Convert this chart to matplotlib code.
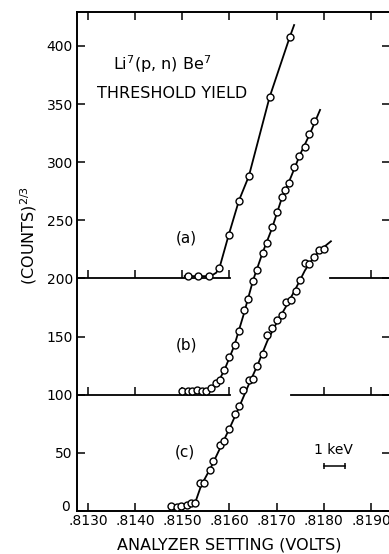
import matplotlib
matplotlib.use("Agg")
import matplotlib.pyplot as plt
from matplotlib.transforms import ScaledTranslation

plt.rcParams['mathtext.default'] = 'regular'

# measured points: (a) offset by 200, (b) by 100, (c) unshifted
a_x = [0.81512, 0.81534, 0.81556, 0.81578, 0.81598, 0.81620, 0.81641, 0.81685, 0.81728]
a_y = [202, 202, 202, 209, 237, 267, 288, 356, 408]

b_x = [0.81500, 0.81511, 0.81520, 0.81532, 0.81542, 0.81550, 0.81561, 0.81571, 0.81579,
       0.81588, 0.81600, 0.81611, 0.81621, 0.81631, 0.81639, 0.81649, 0.81659, 0.81670,
       0.81679, 0.81691, 0.81700, 0.81711, 0.81718, 0.81727, 0.81737, 0.81747, 0.81760,
       0.81769, 0.81779]
b_y = [102.8, 102.8, 102.8, 104.5, 102.8, 102.8, 105.8, 110.1, 113.1,
       121.7, 132.9, 142.8, 154.8, 172.9, 182.1, 197.8, 207.7, 222.2,
       230.8, 243.9, 257.6, 269.8, 276.1, 281.9, 296.3, 305.6, 313.5,
       324.5, 335.5]

c_x = [0.81477, 0.81488, 0.81498, 0.81509, 0.81518, 0.81527, 0.81538, 0.81547, 0.81558,
       0.81566, 0.81579, 0.81588, 0.81599, 0.81611, 0.81621, 0.81629, 0.81641, 0.81650,
       0.81659, 0.81671, 0.81679, 0.81690, 0.81701, 0.81711, 0.81719, 0.81730, 0.81740,
       0.81750, 0.81760, 0.81769, 0.81779, 0.81790, 0.81801]
c_y = [3.9, 3.4, 3.9, 5.2, 6.9, 7.3, 24.5, 24.5, 35.0,
       42.6, 56.5, 60.5, 70.3, 83.3, 90.5, 104.1, 113.1, 113.5,
       124.5, 135.1, 151.0, 157.7, 164.0, 168.6, 179.4, 181.5, 189.5,
       198.7, 213.1, 212.5, 218.8, 224.3, 225.1]

# hand-drawn curves through each set
a_fit_x = [0.81505, 0.81560, 0.81572, 0.81580, 0.81598, 0.81620, 0.81641, 0.81685, 0.81728, 0.81737]
a_fit_y = [202, 202, 205, 211, 237, 267, 288, 356, 408, 418]

b_fit_x = [0.81495, 0.81550, 0.81562, 0.81575, 0.81590, 0.81610, 0.81630, 0.81650, 0.81670,
           0.81690, 0.81710, 0.81730, 0.81750, 0.81770, 0.81792]
b_fit_y = [102.8, 102.8, 105.5, 110, 122, 142, 169, 198.5, 222,
           243, 268, 287, 307, 324, 345]

c_fit_x = [0.81475, 0.81515, 0.81528, 0.81540, 0.81560, 0.81580, 0.81600, 0.81620, 0.81640,
           0.81660, 0.81680, 0.81700, 0.81720, 0.81740, 0.81760, 0.81780, 0.81800, 0.81815]
c_fit_y = [3.5, 5, 8, 22, 37, 54, 71, 89, 108,
           126, 146, 162, 176, 191, 207, 219, 227, 232]

# broken zero lines for the shifted curves
x_min, x_max = 0.812767, 0.819402
base_levels = [200, 100]
base_left_end = [0.81601, 0.81601]
base_right_start = [0.81813, 0.81730]
base_left_ticks = [0.8130, 0.8140, 0.8150, 0.8160]
base_right_ticks = [[0.8190], [0.8180, 0.8190]]

x_ticks = [0.8130, 0.8140, 0.8150, 0.8160, 0.8170, 0.8180, 0.8190]
x_ticklabels = ['.8130', '.8140', '.8150', '.8160', '.8170', '.8180', '.8190']
y_ticks = [0, 50, 100, 150, 200, 250, 300, 350, 400]

kev_bar_x = [0.81800, 0.81845]
kev_bar_y = 39

fig = plt.figure(figsize=(3.89, 5.54), dpi=100)
ax = fig.add_axes([0.1979, 0.0776, 0.8046, 0.9007])

mk = dict(marker='o', ms=5, mfc='white', mec='black', mew=1.0, ls='none', zorder=3)
for fx, fy in [(a_fit_x, a_fit_y), (b_fit_x, b_fit_y), (c_fit_x, c_fit_y)]:
    ax.plot(fx, fy, color='black', lw=1.3, zorder=2)
for px, py in [(a_x, a_y), (b_x, b_y), (c_x, c_y)]:
    ax.plot(px, py, **mk)

for lvl, le, rs, rt in zip(base_levels, base_left_end, base_right_start, base_right_ticks):
    ax.plot([x_min, le], [lvl, lvl], color='black', lw=1.3, zorder=1)
    ax.plot([rs, x_max], [lvl, lvl], color='black', lw=1.3, zorder=1)
    ax.plot(base_left_ticks, [lvl] * len(base_left_ticks), ls='none',
            marker=2, ms=6, mew=1.1, color='black')
    ax.plot(rt, [lvl] * len(rt), ls='none', marker=2, ms=6, mew=1.1, color='black')

# 1 keV scale bar
ax.plot(kev_bar_x, [kev_bar_y, kev_bar_y], color='black', lw=1.1,
        marker='|', ms=5, mew=1.1)
ax.text(sum(kev_bar_x) / 2 - 0.00002, 52.5, '1 keV', fontsize=10, ha='center', va='center')

ax.text(0.81353, 384, r'Li$^7$(p, n) Be$^7$', fontsize=11.5, ha='left', va='center')
ax.text(0.81319, 359, 'THRESHOLD YIELD', fontsize=11.5, ha='left', va='center')
ax.text(0.81508, 235, '(a)', fontsize=11, ha='center', va='center')
ax.text(0.81508, 143, '(b)', fontsize=11, ha='center', va='center')
ax.text(0.81506, 51, '(c)', fontsize=11, ha='center', va='center')

ax.set_xlim(x_min, x_max)
ax.set_ylim(0, 429.2)
ax.set_xticks(x_ticks)
ax.set_xticklabels(x_ticklabels, family=['DejaVu Sans Condensed', 'Liberation Sans Narrow', 'DejaVu Sans'])
ax.set_yticks(y_ticks)
ax.tick_params(direction='in', length=6, width=1.1, top=True, right=True,
               labelsize=10, colors='black')
ax.tick_params(axis='x', pad=2)
ax.tick_params(axis='y', pad=3)
for s in ax.spines.values():
    s.set_linewidth(1.4)

# nudge the zero label up and left, clear of .8130
zero_lbl = ax.get_yticklabels()[0]
zero_lbl.set_transform(zero_lbl.get_transform()
                       + ScaledTranslation(-2 / 72, 4 / 72, fig.dpi_scale_trans))

ax.set_xlabel('ANALYZER SETTING (VOLTS)', fontsize=11.5)
ax.xaxis.set_label_coords(0.487, -0.054)
ax.set_ylabel(r'(COUNTS)$^{2/3}$', fontsize=11.5)
ax.yaxis.set_label_coords(-0.12, 0.553)

fig.savefig('out.png', dpi=100)
